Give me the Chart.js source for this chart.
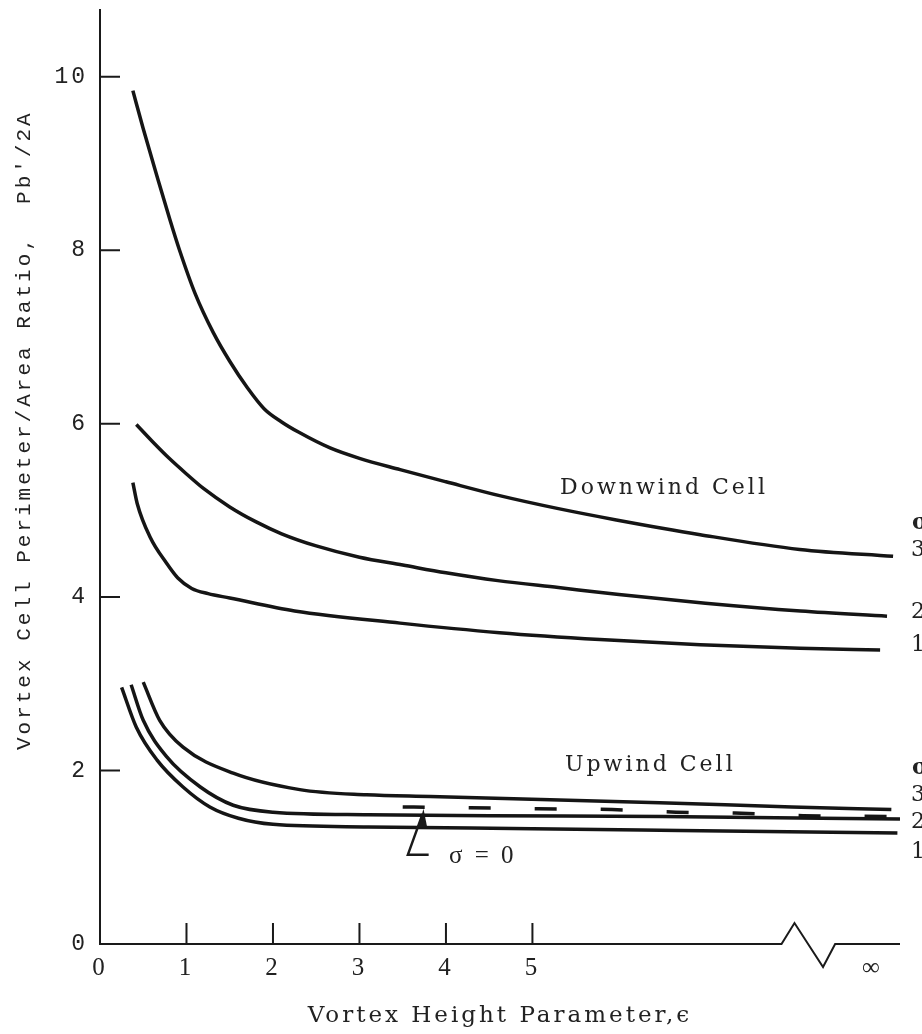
<!DOCTYPE html>
<html>
<head>
<meta charset="utf-8">
<script src="https://cdn.jsdelivr.net/npm/chart.js@4"></script>
<style>
  body { margin: 0; background: #fff; }
  #wrap { width: 922px; height: 1034px; position: relative; }
</style>
</head>
<body>
<div id="wrap"><canvas id="vortexChart"></canvas></div>
<script>
// where the "infinity" end sits on the compressed axis
const INF_POS = 8.93;

const xTickValues = [0, 1, 2, 3, 4, 5, INF_POS];
const xTickLabels = ["0", "1", "2", "3", "4", "5", "\u221E"];
const yTickValues = [0, 2, 4, 6, 8, 10];

// Downwind cell
const downEps3 = [0.38, 0.5, 0.66, 0.8, 0.92, 1.1, 1.31, 1.5, 1.7, 1.9, 2.1, 2.3, 2.66, 3.0, 3.47, 4.0, 4.62, 5.3, 5.97, 6.94, 8.09, 9.17];
const downVal3 = [9.84, 9.4, 8.85, 8.38, 8.0, 7.5, 7.05, 6.72, 6.42, 6.17, 6.02, 5.9, 5.72, 5.6, 5.47, 5.33, 5.17, 5.02, 4.89, 4.72, 4.55, 4.47];
const downEps2 = [0.42, 0.6, 0.8, 1.0, 1.2, 1.5, 1.8, 2.1, 2.5, 3.0, 3.5, 4.0, 4.6, 5.3, 6.0, 7.0, 8.1, 9.1];
const downVal2 = [5.99, 5.8, 5.6, 5.42, 5.25, 5.04, 4.87, 4.73, 4.59, 4.46, 4.37, 4.28, 4.19, 4.11, 4.03, 3.93, 3.84, 3.78];
const downEps1 = [0.38, 0.43, 0.58, 0.77, 0.9, 1.06, 1.25, 1.5, 2.25, 3.47, 4.62, 5.78, 6.94, 8.09, 9.02];
const downVal1 = [5.32, 5.08, 4.69, 4.39, 4.22, 4.1, 4.04, 3.99, 3.84, 3.7, 3.59, 3.51, 3.45, 3.41, 3.39];

// Upwind cell
const upEps3 = [0.5, 0.69, 0.96, 1.54, 2.31, 3.08, 3.82, 6.47, 8.0, 9.15];
const upVal3 = [3.02, 2.58, 2.27, 1.97, 1.78, 1.72, 1.7, 1.63, 1.58, 1.55];
const upEps2 = [0.36, 0.5, 0.77, 1.16, 1.54, 2.0, 3.1, 4.5, 6.5, 9.25];
const upVal2 = [2.99, 2.58, 2.16, 1.81, 1.6, 1.52, 1.49, 1.48, 1.47, 1.44];
const upEps1 = [0.25, 0.42, 0.66, 0.96, 1.27, 1.6, 2.0, 3.1, 5.0, 6.7, 9.22];
const upVal1 = [2.96, 2.5, 2.12, 1.81, 1.58, 1.45, 1.38, 1.35, 1.33, 1.31, 1.28];
const upEps0 = [3.5, 4.28, 5.06, 5.92, 6.66, 7.34, 8.13, 9.13];
const upVal0 = [1.58, 1.57, 1.56, 1.55, 1.52, 1.51, 1.48, 1.47];

function pts(xs, ys) {
  return xs.map((x, i) => ({ x: x, y: ys[i] }));
}

function curve(label, xs, ys, dashed) {
  return {
    label: label,
    data: pts(xs, ys),
    borderColor: "#151515",
    borderWidth: 3.5,
    borderDash: dashed ? [22, 44] : [],
    pointRadius: 0,
    cubicInterpolationMode: "monotone",
    fill: false,
  };
}

function noPad(s) {
  s.paddingTop = 0;
  s.paddingBottom = 0;
  s.paddingLeft = 0;
  s.paddingRight = 0;
}

const decor = {
  id: "decor",
  beforeDraw(chart) {
    const ctx = chart.ctx;
    ctx.save();
    ctx.fillStyle = "#fff";
    ctx.fillRect(0, 0, chart.width, chart.height);
    ctx.restore();
    ctx.letterSpacing = "3px";
  },
  afterDatasetsDraw(chart) {
    const { ctx } = chart;
    const xs = chart.scales.x;
    const ys = chart.scales.y;
    const X = (v) => xs.getPixelForValue(v);
    const Y = (v) => ys.getPixelForValue(v);
    const x0 = X(0), y0 = Y(0);

    ctx.save();
    ctx.strokeStyle = "#1a1a1a";
    ctx.lineWidth = 2;
    ctx.lineJoin = "miter";

    // x axis with break before infinity
    ctx.beginPath();
    ctx.moveTo(x0, y0);
    ctx.lineTo(X(7.88), y0);
    ctx.lineTo(X(8.03), y0 - 21);
    ctx.lineTo(X(8.36), y0 + 23);
    ctx.lineTo(X(8.5), y0);
    ctx.lineTo(X(9.25), y0);
    ctx.stroke();

    // inward tick marks
    ctx.beginPath();
    [1, 2, 3, 4, 5].forEach((v) => {
      ctx.moveTo(X(v), y0);
      ctx.lineTo(X(v), y0 - 21);
    });
    [2, 4, 6, 8, 10].forEach((v) => {
      ctx.moveTo(x0, Y(v));
      ctx.lineTo(x0 + 20, Y(v));
    });
    ctx.stroke();

    // sigma = 0 leader
    ctx.lineWidth = 2.5;
    ctx.beginPath();
    ctx.moveTo(X(3.73), Y(1.5));
    ctx.lineTo(X(3.56), Y(1.03));
    ctx.lineTo(X(3.8), Y(1.03));
    ctx.stroke();
    ctx.fillStyle = "#1a1a1a";
    ctx.beginPath();
    ctx.moveTo(X(3.74), Y(1.56));
    ctx.lineTo(X(3.68), Y(1.34));
    ctx.lineTo(X(3.78), Y(1.36));
    ctx.closePath();
    ctx.fill();

    // labels
    ctx.fillStyle = "#222";
    ctx.textBaseline = "middle";
    ctx.letterSpacing = "3px";
    ctx.font = "22px 'DejaVu Serif'";
    ctx.fillText("Downwind Cell", 560, 488);
    ctx.fillText("Upwind Cell", 565, 765);
    ctx.font = "25px 'Liberation Serif'";
    ctx.letterSpacing = "3px";
    ctx.fillText("\u03C3 = 0", 449, 856);

    ctx.letterSpacing = "0px";
    ctx.font = "bold 22px 'DejaVu Serif'";
    ctx.fillText("\u03C3", 912, 523);
    ctx.fillText("\u03C3", 912, 768);
    ctx.font = "22px 'DejaVu Serif'";
    [["3", 550], ["2", 612], ["1", 645], ["3", 795], ["2", 822], ["1", 852]].forEach((t) => {
      ctx.fillText(t[0], 911, t[1]);
    });
    ctx.restore();
  },
  afterDraw(chart) {
    chart.ctx.letterSpacing = "0px";
  },
};

const ctx = document.getElementById("vortexChart").getContext("2d");
new Chart(ctx, {
  type: "line",
  data: {
    datasets: [
      curve("Downwind \u03C3=3", downEps3, downVal3),
      curve("Downwind \u03C3=2", downEps2, downVal2),
      curve("Downwind \u03C3=1", downEps1, downVal1),
      curve("Upwind \u03C3=3", upEps3, upVal3),
      curve("Upwind \u03C3=2", upEps2, upVal2),
      curve("Upwind \u03C3=1", upEps1, upVal1),
      curve("Upwind \u03C3=0", upEps0, upVal0, true),
    ],
  },
  options: {
    responsive: true,
    maintainAspectRatio: false,
    animation: false,
    layout: { padding: { top: 10, right: 22, left: 0, bottom: 0 } },
    plugins: { legend: { display: false }, tooltip: { enabled: false } },
    scales: {
      x: {
        type: "linear",
        min: 0,
        max: 9.25,
        afterFit: (s) => { s.height = 90; noPad(s); },
        afterBuildTicks: (s) => { s.ticks = xTickValues.map((v) => ({ value: v })); },
        grid: { display: false, drawTicks: false },
        border: { display: false },
        ticks: {
          autoSkip: false,
          maxRotation: 0,
          padding: 9,
          color: "#222",
          font: { family: "'Liberation Serif'", size: 25 },
          callback: (v) => xTickLabels[xTickValues.indexOf(v)],
        },
        title: {
          display: true,
          text: "Vortex Height Parameter,\u03F5",
          color: "#222",
          font: { family: "'DejaVu Serif'", size: 23 },
          padding: { top: 4, bottom: 4 },
        },
      },
      y: {
        min: 0,
        max: 10.77,
        afterFit: (s) => { s.width = 100; noPad(s); },
        afterBuildTicks: (s) => { s.ticks = yTickValues.map((v) => ({ value: v })); },
        grid: { display: false, drawTicks: false },
        border: { display: true, color: "#1a1a1a", width: 2 },
        ticks: {
          padding: 12,
          color: "#222",
          font: { family: "'Liberation Mono'", size: 23 },
        },
        title: {
          display: true,
          text: "      Vortex Cell Perimeter/Area Ratio,  Pb'/2A",
          color: "#222",
          font: { family: "'Liberation Mono'", size: 21 },
          padding: { top: 12, bottom: 12 },
        },
      },
    },
  },
  plugins: [decor],
});
</script>
</body>
</html>
